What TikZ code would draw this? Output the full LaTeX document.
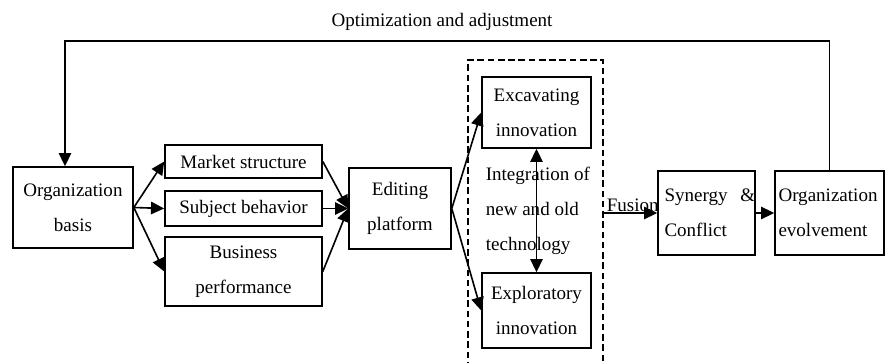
\documentclass[tikz,border=0pt]{standalone}
\usepackage{fontspec}
\setmainfont{Liberation Serif}
\usetikzlibrary{arrows.meta, positioning}
\newlength\px
\setlength\px{0.024cm}

\begin{document}
\begin{tikzpicture}[
      x=0.024cm, y=-0.024cm,
      line width=1.1pt,
      box/.style={draw, rectangle, align=center, inner sep=2pt,
        font=\fontsize{13}{24}\selectfont},
      lbl/.style={font=\fontsize{13}{24}\selectfont},
      >={Triangle[length=9pt, width=8.5pt]}
    ]
    \clip (0,0) rectangle (885,363);

    % Nodes
    \node[box, minimum width=120\px, minimum height=81\px] (basis) at (73,207.5) {Organization\\basis};
    \node[box, minimum width=157\px, minimum height=33\px] (market) at (243.5,161.5) {Market structure};
    \node[box, minimum width=157\px, minimum height=35\px] (subject) at (243.5,208.5) {Subject behavior};
    \node[box, minimum width=157\px, minimum height=69\px] (business) at (243.5,271.5) {Business\\performance};
    \node[box, minimum width=102\px, minimum height=81\px] (editing) at (400,208.5) {Editing\\platform};
    \node[box, minimum width=109\px, minimum height=71\px] (excav) at (536.5,112.5) {Excavating\\innovation};
    \node[box, minimum width=109\px, minimum height=75\px] (explor) at (536.5,310.5) {Exploratory\\innovation};
    \node[draw, dash pattern=on 4.5pt off 2.5pt, minimum width=135\px, minimum height=320\px] (frame) at (535.5,220) {};
    \node[box, align=left, text width=84\px, minimum width=97\px, minimum height=84\px] (synergy) at (706.5,213) {Synergy~~\&\\Conflict};
    \node[box, align=left, text width=102\px, minimum width=109\px, minimum height=84\px] (evolve) at (829.5,213) {Organization\\evolvement};
    \node[lbl, align=left, anchor=west, inner sep=0pt] (integ) at (485,211) {Integration of\\new and old\\technology};

    % Arrows
    \draw[->] (basis.east) -- (market.west);
    \draw[->] (basis.east) -- (subject.west);
    \draw[->] (basis.east) -- (business.west);
    \draw[->] (market.east) -- (editing.west);
    \draw[->] (subject.east) -- (editing.west);
    \draw[->] (business.east) -- (editing.west);
    \draw[->] (editing.east) -- (excav.west);
    \draw[->] (editing.east) -- (explor.west);
    \draw[<->] (excav.south) -- (explor.north);
    \draw[->] (frame.east |- synergy.west) -- node[lbl, above, xshift=1.5pt, inner sep=0.5pt] {Fusion} (synergy.west);
    \draw[->] (synergy.east) -- (evolve.west);

    % Feedback loop
    \coordinate (top) at (442,41);
    \draw[->] (evolve.north) |- (top) -| ([xshift=-8\px]basis.north);
    \node[lbl, above=3pt of top] (optim) {Optimization and adjustment};

  \end{tikzpicture}
\end{document}
